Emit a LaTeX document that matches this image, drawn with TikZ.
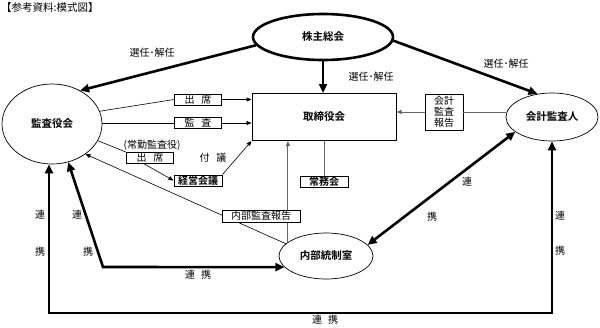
\documentclass[tikz,border=0pt]{standalone}
\usepackage{fontspec}
\newfontfamily\jp[BoldFont={Noto Sans CJK JP Bold}]{Noto Sans CJK JP}
\usetikzlibrary{shapes.geometric,arrows.meta}
\begin{document}
\begin{tikzpicture}[x=1pt,y=-1pt,
  font=\jp\fontsize{10}{12}\selectfont,
  ell/.style={ellipse,draw,line width=0.7pt,inner sep=0pt,fill=white,font=\jp\bfseries\fontsize{10.5}{12}\selectfont},
  bigbox/.style={rectangle,draw,line width=1pt,inner sep=0pt,font=\jp\bfseries\fontsize{10.5}{12}\selectfont},
  sbox/.style={rectangle,draw,line width=0.7pt,fill=white,inner sep=0pt,minimum height=11},
  bsbox/.style={sbox,line width=1pt,font=\jp\bfseries\fontsize{10}{12}\selectfont},
  thk/.style={line width=2.6pt,-{Triangle[length=9pt,width=8pt]}},
  thkd/.style={line width=2.6pt,{Triangle[length=9pt,width=8pt]}-{Triangle[length=9pt,width=8pt]}},
  thn/.style={line width=0.6pt},
  thna/.style={line width=0.6pt,-{Triangle[length=5pt,width=4pt]}},
  gry/.style={line width=0.9pt,draw=black!60},
  grya/.style={gry,-{Triangle[length=5pt,width=4pt]}},
  lbl/.style={inner sep=0pt}]
\useasboundingbox (0,0) rectangle (600,327);
\fill[white] (0,0) rectangle (600,327);

% title
\node[lbl,anchor=west,font=\jp\fontsize{10.5}{12}\selectfont] (title) at (1,8) {【参考資料:模式図】};

% main nodes
\node[ell,line width=2.6pt,minimum width=140,minimum height=46] (kabu) at (323,37) {株主総会};
\node[ell,minimum width=100,minimum height=80] (kansa) at (52,124) {監査役会};
\node[ell,minimum width=92,minimum height=48] (kaikei) at (552,117) {会計監査人};
\node[ell,minimum width=94,minimum height=46] (naibu) at (326,256) {内部統制室};
\node[bigbox,minimum width=144,minimum height=47] (tori) at (324,117) {取締役会};

% lines behind boxes
\coordinate (nb) at (naibu.160);
\draw[grya] (nb) -- (nb |- tori.south);
\draw[thna] (naibu.163) -- (kansa.-42);

% small boxes
\node[sbox,minimum width=47] (shu1) at (198,99.5) {出\hspace{0.7em}席};
\node[sbox,minimum width=47] (kan2) at (198,123) {監\hspace{0.7em}査};
\node[sbox,minimum width=47] (shu2) at (150,158) {出\hspace{0.7em}席};
\node[bsbox,minimum width=48] (keiei) at (198,180.5) {経営会議};
\node[bsbox,minimum width=48] (joumu) at (324,181.5) {常務会};
\node[sbox,minimum width=78,minimum height=12] (nhou) at (261,216) {内部監査報告};
\node[sbox,minimum width=38,minimum height=36,align=center,font=\jp\fontsize{10}{11}\selectfont] (khou) at (444,112) {会計\\監査\\報告};

% thick election arrows
\draw[thk] (kabu.south) -- (kabu.south |- tori.north);
\draw[thk] (kabu.187) -- (kansa.50);
\draw[thk] (kabu.-3) -- (kaikei.122);
\node[lbl] (l1) at (152,53) {選任･解任};
\node[lbl] (l2) at (371,77) {選任･解任};
\node[lbl] (l3) at (506,64) {選任･解任};

% audit board to board of directors
\draw[thn] (kansa.15) -- (shu1.west);
\draw[thna] (shu1.east) -- (shu1.east -| tori.west);
\draw[thn] (kansa.east |- kan2.west) -- (kan2.west);
\draw[thna] (kan2.east) -- (kan2.east -| tori.west);
\draw[thn] (kansa.-20) -- (shu2.north west);
\draw[thna] ([xshift=-6pt]shu2.south) -- (keiei.west);
\draw[thna] (keiei.north east) -- (tori.south west);
\node[lbl] (joukin) at (152,145) {(常勤監査役)};
\node[lbl] (fugi) at (213,158) {付\hspace{0.7em}議};

% board to joumukai
\draw[gry] (joumu.north) -- (joumu.north |- tori.south);

% accounting auditor report
\draw[gry] (khou.east) -- (khou.east -| kaikei.west);
\draw[grya] (khou.west) -- (khou.west -| tori.east);

% cooperation arrows
\draw[thkd] (kaikei.202) -- (naibu.15);
\node[lbl] (r1) at (467,182) {連};
\node[lbl] (r2) at (432,217) {携};

\coordinate (bl) at (49,313);
\draw[thkd] (kaikei.south) |- (bl) -- (bl |- kansa.south);
\node[lbl] (r3) at (560,216) {連};
\node[lbl] (r4) at (560,251) {携};
\node[lbl] (r5) at (40,215) {連};
\node[lbl] (r6) at (40,252) {携};
\node[lbl] (r7) at (325,320) {連\hspace{0.6em}携};

\coordinate (ci) at (103,267);
\draw[thkd] (kansa.-67) -- (ci) -- (naibu.195);
\node[lbl] (r8) at (77,215) {連};
\node[lbl] (r9) at (88,252) {携};
\node[lbl] (r10) at (198,275) {連\hspace{0.6em}携};
\end{tikzpicture}
\end{document}
